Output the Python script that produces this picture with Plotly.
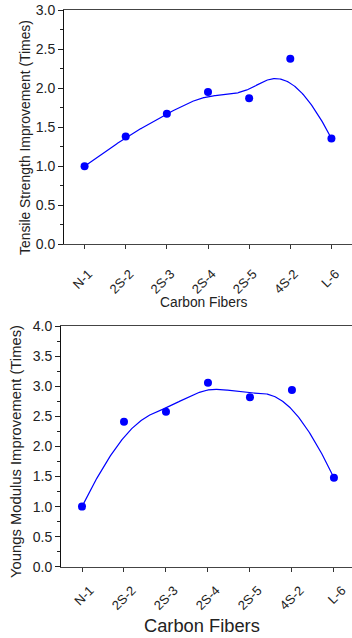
import numpy as np
import plotly.graph_objects as go

categories = ["N-1", "2S-2", "2S-3", "2S-4", "2S-5", "4S-2", "L-6"]
tensile = [1.00, 1.38, 1.67, 1.95, 1.87, 2.375, 1.355]
youngs = [1.00, 2.41, 2.58, 3.06, 2.82, 2.94, 1.48]


def bspline(xs, ys, degree=3, num=400):
    """Clamped uniform B-spline using the data points as control points."""
    xs = np.asarray(xs, float)
    ys = np.asarray(ys, float)
    n = len(xs)
    knots = np.array([0] * (degree + 1) + list(range(1, n - degree)) + [n - degree] * (degree + 1), float)
    t = np.linspace(0, knots[-1] - 1e-9, num)
    N = np.zeros((len(knots) - 1, num))
    for i in range(len(knots) - 1):
        N[i] = ((knots[i] <= t) & (t < knots[i + 1])).astype(float)
    for k in range(1, degree + 1):
        Nn = np.zeros((len(knots) - 1 - k, num))
        for i in range(len(knots) - 1 - k):
            a = 0.0
            d1 = knots[i + k] - knots[i]
            if d1 > 0:
                a = (t - knots[i]) / d1 * N[i]
            b = 0.0
            d2 = knots[i + k + 1] - knots[i + 1]
            if d2 > 0:
                b = (knots[i + k + 1] - t) / d2 * N[i + 1]
            Nn[i] = a + b
        N = Nn
    return N.T @ xs, N.T @ ys


xidx = list(range(len(categories)))
font = "Liberation Sans, Arial, sans-serif"
blue = "#0000FF"
W, H = 352, 638

fig = go.Figure()
for vals, xa, ya in [(tensile, "x", "y"), (youngs, "x2", "y2")]:
    cx, cy = bspline(xidx, vals)
    fig.add_trace(go.Scatter(x=cx, y=cy, mode="lines", line=dict(color=blue, width=1.2),
                             xaxis=xa, yaxis=ya, showlegend=False, hoverinfo="skip"))
    fig.add_trace(go.Scatter(x=xidx, y=vals, mode="markers", marker=dict(color=blue, size=8),
                             xaxis=xa, yaxis=ya, showlegend=False))

common_x = dict(tickvals=xidx, ticktext=categories, tickangle=-45, ticks="outside", ticklen=4,
                tickcolor="#333", showline=True, linecolor="#444", linewidth=1, mirror=True,
                showgrid=False, zeroline=False, automargin=False,
                tickfont=dict(family=font, size=13, color="#222"))
common_y = dict(ticks="outside", ticklen=5, tickcolor="#222", showline=True, linecolor="#111",
                linewidth=1, showgrid=False, zeroline=False, dtick=0.5, tickformat=".1f",
                automargin=False,
                tickfont=dict(family=font, size=14, color="#222"),
                minor=dict(ticks="outside", ticklen=3, dtick=0.25, tickcolor="#222", showgrid=False))

fig.update_layout(
    width=W, height=H, margin=dict(l=0, r=0, t=0, b=0, autoexpand=False),
    paper_bgcolor="white", plot_bgcolor="white",
    xaxis=dict(domain=[64 / W, 1], range=[-0.5, 6.5], anchor="y",
               ticklabelstandoff=12, ticklabelshift=4, **common_x),
    yaxis=dict(domain=[1 - 244.3 / H, 1 - 10 / H], range=[0, 3.0], anchor="x", **common_y),
    xaxis2=dict(domain=[61 / W, 1], range=[-0.5, 6.43], anchor="y2",
                ticklabelstandoff=6, ticklabelshift=8, **common_x),
    yaxis2=dict(domain=[1 - 566.7 / H, 1 - 326.3 / H], range=[0, 4.0], anchor="x2", **common_y),
)

titles = [
    ("Tensile Strength Improvement (Times)", 25, 138, 13.9, -90),
    ("Youngs Modulus Improvement (Times)", 16.5, 451.5, 14.8, -90),
    ("Carbon Fibers", 204, 302.5, 13.8, 0),
    ("Carbon Fibers", 202, 625, 18.3, 0),
]
for text, px, py, size, ang in titles:
    fig.add_annotation(text=text, x=px / W, y=1 - py / H, xref="paper", yref="paper",
                       xanchor="center", yanchor="middle", showarrow=False, textangle=ang,
                       font=dict(family=font, size=size, color="#222"))

fig.write_html("out.html", config={"displayModeBar": False},
               post_script="document.body.style.margin='0px';document.body.style.overflow='hidden';")
